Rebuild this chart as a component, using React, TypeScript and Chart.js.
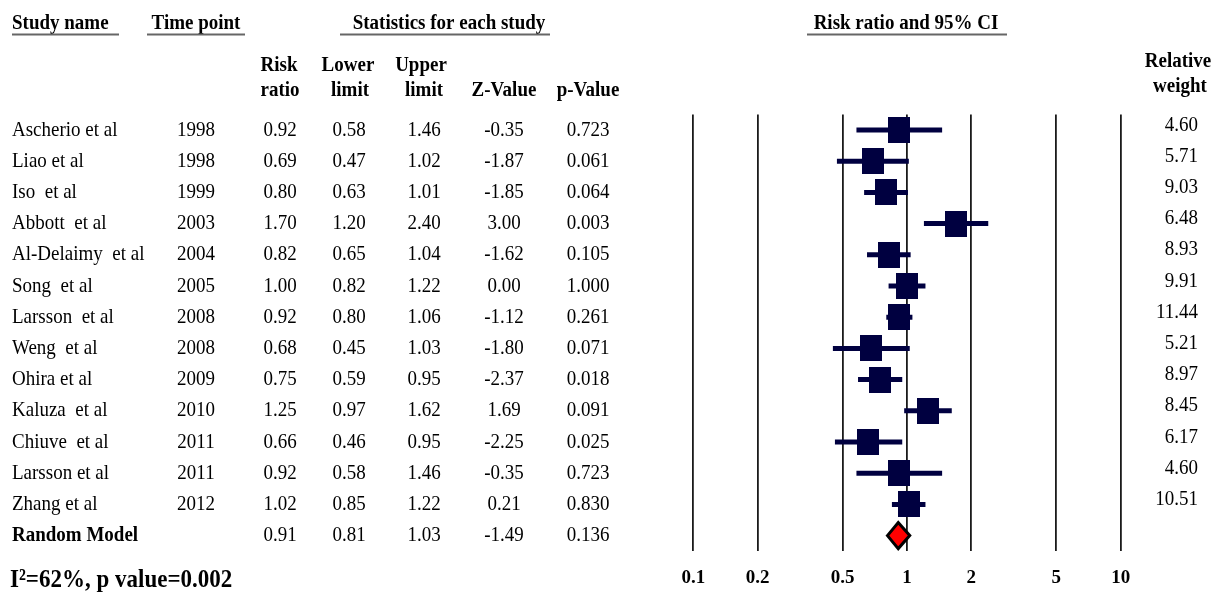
import React, { useEffect, useRef } from 'react';
import { Chart, registerables } from 'chart.js';

Chart.register(...registerables);

// ---------- data ----------
const studies = [
  'Ascherio et al',
  'Liao et al',
  'Iso  et al',
  'Abbott  et al',
  'Al-Delaimy  et al',
  'Song  et al',
  'Larsson  et al',
  'Weng  et al',
  'Ohira et al',
  'Kaluza  et al',
  'Chiuve  et al',
  'Larsson et al',
  'Zhang et al',
];
const years = ['1998', '1998', '1999', '2003', '2004', '2005', '2008', '2008', '2009', '2010', '2011', '2011', '2012'];
const riskRatio = [0.92, 0.69, 0.8, 1.7, 0.82, 1.0, 0.92, 0.68, 0.75, 1.25, 0.66, 0.92, 1.02];
const lowerLimit = [0.58, 0.47, 0.63, 1.2, 0.65, 0.82, 0.8, 0.45, 0.59, 0.97, 0.46, 0.58, 0.85];
const upperLimit = [1.46, 1.02, 1.01, 2.4, 1.04, 1.22, 1.06, 1.03, 0.95, 1.62, 0.95, 1.46, 1.22];
const zValues = ['-0.35', '-1.87', '-1.85', '3.00', '-1.62', '0.00', '-1.12', '-1.80', '-2.37', '1.69', '-2.25', '-0.35', '0.21'];
const pValues = ['0.723', '0.061', '0.064', '0.003', '0.105', '1.000', '0.261', '0.071', '0.018', '0.091', '0.025', '0.723', '0.830'];
const relativeWeights = ['4.60', '5.71', '9.03', '6.48', '8.93', '9.91', '11.44', '5.21', '8.97', '8.45', '6.17', '4.60', '10.51'];

const pooledLabel = 'Random Model';
const pooledRR = 0.91;
const pooledLower = 0.81;
const pooledUpper = 1.03;
const pooledZ = '-1.49';
const pooledP = '0.136';

const xTickValues = [0.1, 0.2, 0.5, 1, 2, 5, 10];
const heterogeneityText = 'I\u00B2=62%, p value=0.002';

// ---------- styles ----------
const NAVY = '#000040';
const SERIF = '"Liberation Serif", "Times New Roman", serif';
const W = 1213;
const H = 595;
const SY = 1.13; // vertical stretch of the text, as in the reference

function makeMarker(): HTMLCanvasElement {
  const c = document.createElement('canvas');
  c.width = 22;
  c.height = 26;
  const g = c.getContext('2d')!;
  g.fillStyle = NAVY;
  g.fillRect(0, 0, 22, 26);
  return c;
}

const fmt2 = (v: number) => v.toFixed(2);

const diamondPlugin = {
  id: 'pooledDiamond',
  afterDatasetsDraw(chart: any) {
    const { ctx } = chart;
    const x = chart.scales.x;
    const y = chart.scales.y;
    const cy = y.getPixelForValue(studies.length);
    const half = 13;
    ctx.save();
    ctx.beginPath();
    ctx.moveTo(x.getPixelForValue(pooledLower), cy);
    ctx.lineTo(x.getPixelForValue(pooledRR), cy - half);
    ctx.lineTo(x.getPixelForValue(pooledUpper), cy);
    ctx.lineTo(x.getPixelForValue(pooledRR), cy + half);
    ctx.closePath();
    ctx.fillStyle = '#ff0000';
    ctx.fill();
    ctx.lineWidth = 3;
    ctx.lineJoin = 'miter';
    ctx.strokeStyle = '#000';
    ctx.stroke();
    ctx.restore();
  },
};

const tablePlugin = {
  id: 'forestTable',
  afterDraw(chart: any) {
    const { ctx } = chart;
    const y = chart.scales.y;
    const normal = `19px ${SERIF}`;
    const bold = `bold 19px ${SERIF}`;
    ctx.save();
    ctx.fillStyle = '#000';
    ctx.textBaseline = 'middle';
    const txt = (t: string, px: number, py: number, align: CanvasTextAlign, f: string) => {
      ctx.save();
      ctx.font = f;
      ctx.textAlign = align;
      ctx.translate(px, py);
      ctx.scale(1, SY);
      ctx.fillText(t, 0, 0);
      ctx.restore();
    };

    // top headers
    txt('Study name', 12, 23, 'left', bold);
    txt('Time point', 196, 23, 'center', bold);
    txt('Statistics for each study', 449, 23, 'center', bold);
    txt('Risk ratio and 95% CI', 906, 23, 'center', bold);

    ctx.strokeStyle = '#666';
    ctx.lineWidth = 2;
    const uline = (a: number, b: number) => {
      ctx.beginPath();
      ctx.moveTo(a, 34.5);
      ctx.lineTo(b, 34.5);
      ctx.stroke();
    };
    uline(12, 119);
    uline(147, 245);
    uline(340, 550);
    uline(807, 1007);

    // column headers
    txt('Risk', 279, 65, 'center', bold);
    txt('ratio', 280, 90, 'center', bold);
    txt('Lower', 348, 65, 'center', bold);
    txt('limit', 350, 90, 'center', bold);
    txt('Upper', 421, 65, 'center', bold);
    txt('limit', 424, 90, 'center', bold);
    txt('Z-Value', 504, 90, 'center', bold);
    txt('p-Value', 588, 90, 'center', bold);
    txt('Relative', 1178, 61, 'center', bold);
    txt('weight', 1180, 86, 'center', bold);

    // study rows
    studies.forEach((s, i) => {
      const py = y.getPixelForValue(i);
      txt(s, 12, py, 'left', normal);
      txt(years[i], 196, py, 'center', normal);
      txt(fmt2(riskRatio[i]), 280, py, 'center', normal);
      txt(fmt2(lowerLimit[i]), 349, py, 'center', normal);
      txt(fmt2(upperLimit[i]), 424, py, 'center', normal);
      txt(zValues[i], 504, py, 'center', normal);
      txt(pValues[i], 588, py, 'center', normal);
      txt(relativeWeights[i], 1198, py - 5, 'right', normal);
    });

    // pooled row
    const pyp = y.getPixelForValue(studies.length);
    txt(pooledLabel, 12, pyp, 'left', bold);
    txt(fmt2(pooledRR), 280, pyp, 'center', normal);
    txt(fmt2(pooledLower), 349, pyp, 'center', normal);
    txt(fmt2(pooledUpper), 424, pyp, 'center', normal);
    txt(pooledZ, 504, pyp, 'center', normal);
    txt(pooledP, 588, pyp, 'center', normal);

    // footer
    txt(heterogeneityText, 10, 580, 'left', `bold 23px ${SERIF}`);
    ctx.restore();
  },
};

export default function App() {
  const ref = useRef<HTMLCanvasElement | null>(null);

  useEffect(() => {
    document.body.style.margin = '0';
    const canvas = ref.current;
    if (!canvas) return;
    const marker = makeMarker();

    const ciDatasets = studies.map((s, i) => ({
      type: 'line' as const,
      label: s + ' CI',
      data: [
        { x: lowerLimit[i], y: i },
        { x: upperLimit[i], y: i },
      ],
      borderColor: NAVY,
      borderWidth: 5,
      borderCapStyle: 'butt' as const,
      pointRadius: 0,
      fill: false,
      order: 2,
    }));

    const chart = new Chart(canvas, {
      type: 'scatter',
      data: {
        datasets: [
          {
            type: 'scatter',
            label: 'Risk ratio',
            data: riskRatio.map((v, i) => ({ x: v, y: i })),
            pointStyle: marker as any,
            pointRadius: 12,
            order: 1,
          },
          ...ciDatasets,
        ] as any,
      },
      options: {
        responsive: false,
        animation: false,
        events: [],
        layout: { padding: { left: 693.3, right: 92.3, top: 114.4, bottom: 0 } },
        plugins: { legend: { display: false }, tooltip: { enabled: false } },
        scales: {
          x: {
            type: 'logarithmic',
            min: 0.1,
            max: 10,
            afterBuildTicks: (scale: any) => {
              scale.ticks = xTickValues.map((v) => ({ value: v }));
            },
            afterFit: (scale: any) => {
              scale.height = H - 551.2;
            },
            ticks: {
              autoSkip: false,
              maxRotation: 0,
              padding: 15,
              color: '#000',
              font: { family: SERIF, size: 19, weight: 'bold' },
              callback: (v: any) => String(v),
            },
            grid: { color: '#1a1a1a', lineWidth: 1.8, drawTicks: false },
            border: { display: false },
          },
          y: {
            type: 'linear',
            min: -0.5,
            max: studies.length + 0.5,
            reverse: true,
            display: false,
          },
        },
      },
      plugins: [diamondPlugin, tablePlugin],
    } as any);

    return () => chart.destroy();
  }, []);

  return (
    <div style={{ position: 'absolute', left: 0, top: 0, width: W, height: H, background: '#fff' }}>
      <canvas ref={ref} width={W} height={H} style={{ width: W, height: H, display: 'block' }} />
    </div>
  );
}
